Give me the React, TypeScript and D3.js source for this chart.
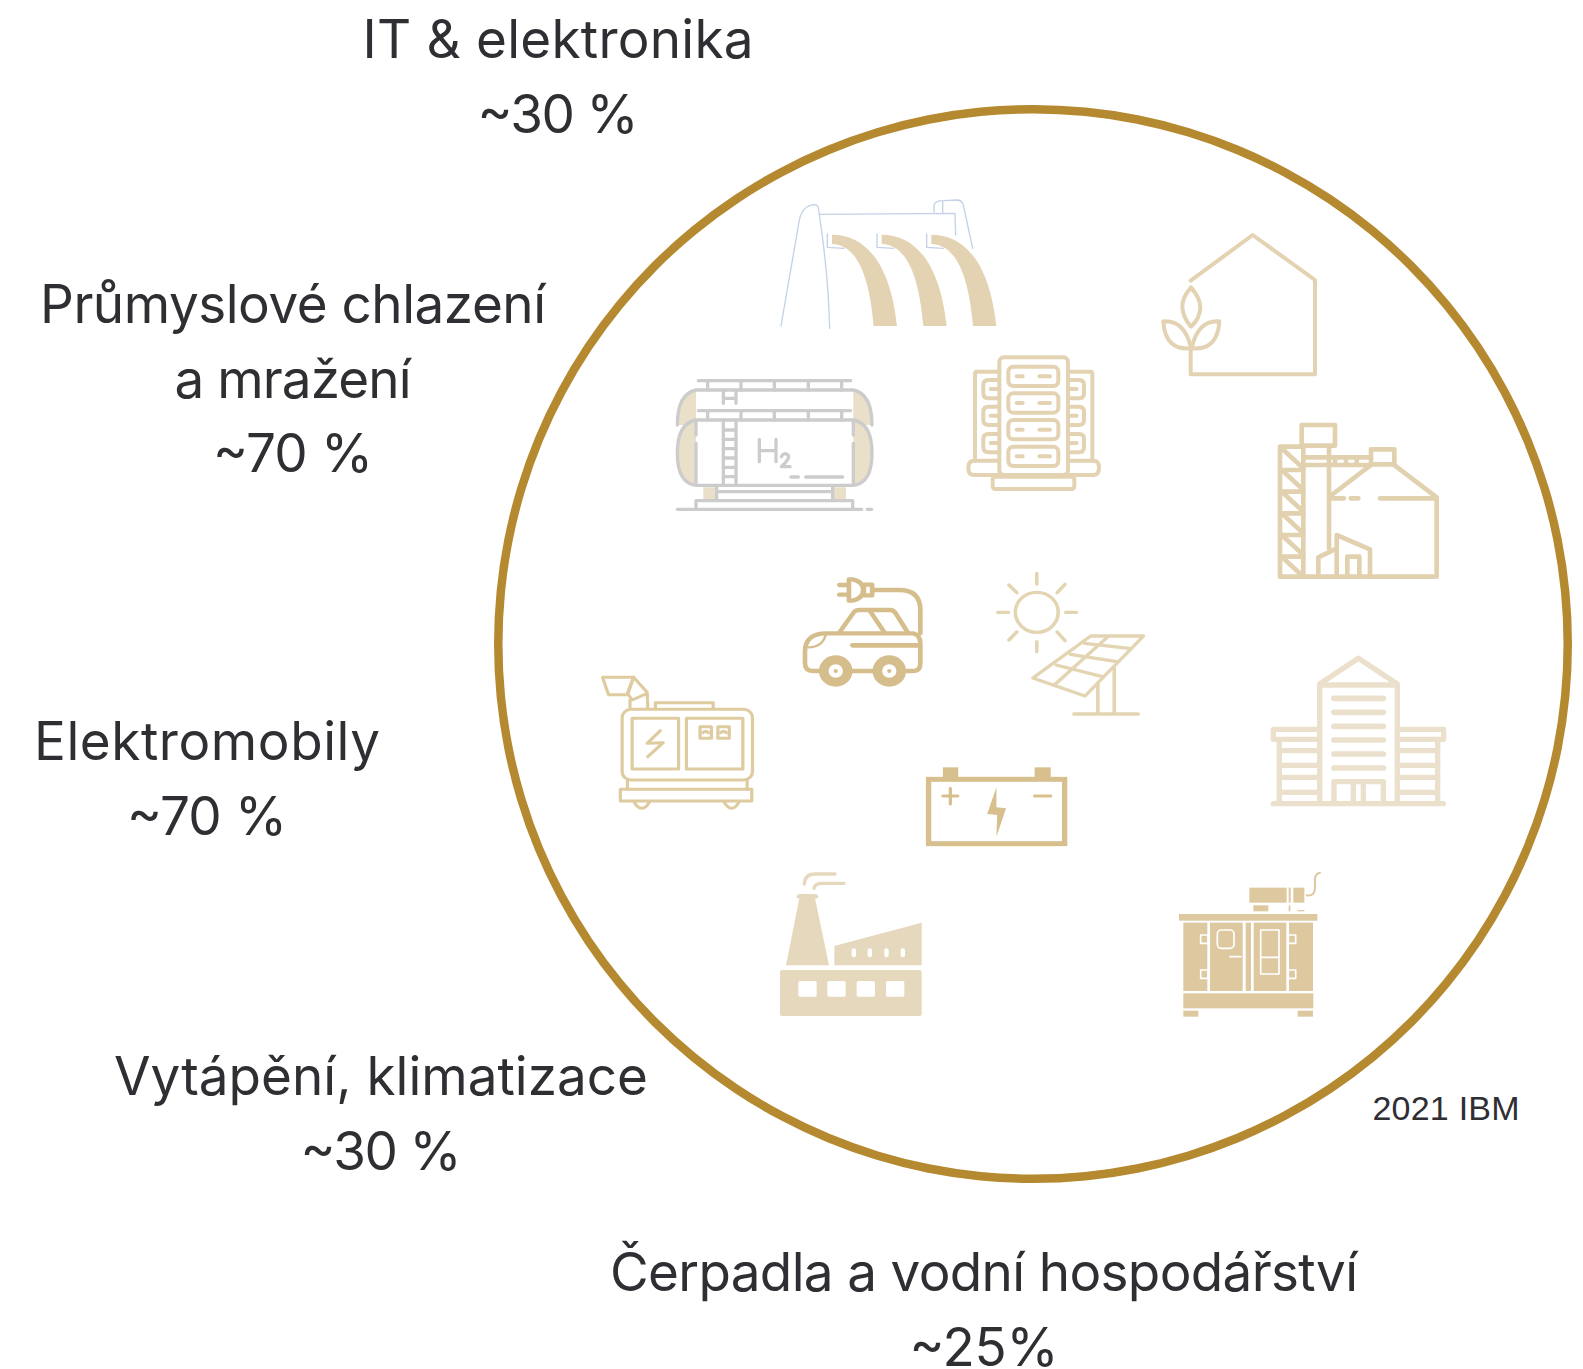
import React from 'react';
import * as d3 from 'd3';

// labels, one array per column
const sectorLines = [
  ['IT & elektronika'],
  ['Průmyslové chlazení', 'a mražení'],
  ['Elektromobily'],
  ['Vytápění, klimatizace'],
  ['Čerpadla a vodní hospodářství'],
];
const shares = ['~30 %', '~70 %', '~70 %', '~30 %', '~25%'];
const sourceNote = '2021 IBM';

// where each label block sits: centre x, first baseline
const labelAnchors = [
  [558, 58],
  [293, 323],
  [207, 760],
  [381, 1095],
  [984, 1291],
];
// measured line widths, the original font is a little narrower than Inter
const lineWidths = [
  [391, 161],
  [506, 237, 160],
  [346, 160],
  [534, 161],
  [748, 149],
];
const lineStep = 74.6;

const RING = '#b5892f';
const INK = '#2e2e33';
const FONT = "'Inter', 'Open Sans', sans-serif";

const ring = d3.arc()({ innerRadius: 530.5, outerRadius: 539, startAngle: 0, endAngle: 2 * Math.PI }) as string;

const Traced = ({ x, y, kx = 1 / 3, children }: { x: number; y: number; kx?: number; children: React.ReactNode }) => (
  <g transform={`translate(${x},${y}) scale(${kx},${1 / 3})`} strokeLinecap="round" strokeLinejoin="round">
    {children}
  </g>
);

const Dam = () => (
  <g fill="none">
    <g stroke="#c3d2e6" strokeWidth={4}>
      <path d="M363 408 L418 90 Q428 45 465 44 Q474 44 476 60 Q505 250 509 415" />
      <path d="M478 73 L885 70 L887 135" />
      <path d="M822 66 L822 45 Q825 32 850 32 L890 30 Q905 30 910 45 L938 175 M848 32 L848 68" />
      {[0, 149, 298].map(dx => (
        <path key={dx} d="M502 132 L502 172 L552 175" transform={`translate(${dx},0)`} />
      ))}
    </g>
    {[0, 149, 298].map(dx => (
      <path
        key={dx}
        d="M516 134 C610 134 690 210 711 408 L641 408 C630 280 600 165 516 162 Z"
        fill="#e3d3b3"
        transform={`translate(${dx},0)`}
      />
    ))}
  </g>
);

const Tank = () => (
  <g fill="none" stroke="#cccccc" strokeWidth={10}>
    <path d="M108 600 Q52 620 52 705 L108 705 Z" fill="#eadfc8" stroke="none" />
    <path d="M580 600 Q636 620 636 705 L580 705 Z" fill="#eadfc8" stroke="none" />
    <path d="M52 705 Q52 612 108 600 L580 600 Q636 612 636 705" />
    <path d="M115 572 L572 572 M115 662 L572 662" />
    {[143, 243, 343, 445, 545].map(x => (
      <path key={x} d={`M${x} 572 L${x} 600 M${x} 662 L${x} 690`} />
    ))}
    <path d="M190 605 L190 640 M228 605 L228 640 M190 625 L228 625" />
    <path d="M108 690 Q52 700 52 790 Q52 880 108 886 Z" fill="#eadfc8" stroke="none" />
    <path d="M580 690 Q636 700 636 790 Q636 880 580 886 Z" fill="#eadfc8" stroke="none" />
    <path d="M108 886 Q52 880 52 790 Q52 700 108 690 L580 690 Q636 700 636 790 Q636 880 580 886 Z" />
    <path d="M108 695 L108 735 M108 760 L108 880 M580 695 L580 735 M580 760 L580 880" />
    <path d="M190 690 L190 886 M228 690 L228 886" />
    {d3.range(720, 880, 28).map(y => (
      <path key={y} d={`M190 ${y} L228 ${y}`} />
    ))}
    <path d="M298 748 L298 815 M348 748 L348 815 M298 782 L348 782" />
    <path d="M364 800 Q372 785 384 795 Q392 805 364 830 L390 830" />
    <path d="M393 861 L415 861 M437 861 L548 861" />
    <path d="M130 892 L170 892 L170 930 L130 930 Z M518 892 L558 892 L558 930 L518 930 Z" fill="#eadfc8" stroke="none" />
    <path d="M170 890 L170 930 M518 890 L518 930 M170 905 L515 905" />
    <path d="M108 958 L108 932 L578 932 L578 958 M52 958 L605 958 M622 958 L635 958" />
  </g>
);

const ServerRack = () => (
  <g fill="none" stroke="#e3d3b3" strokeWidth={12}>
    <rect x={1018} y={502} width={206} height={353} rx={14} />
    {[530, 610, 690, 770].map(y => (
      <g key={y}>
        <rect x={1045} y={y} width={150} height={58} rx={15} />
        <path d={`M1070 ${y + 29} L1088 ${y + 29} M1138 ${y + 29} L1170 ${y + 29}`} />
      </g>
    ))}
    {[0, 1].map(side => (
      <g key={side} transform={side ? 'translate(2242,0) scale(-1,1)' : undefined}>
        <path d="M1018 545 L950 545 Q945 545 945 552 L945 812" />
        {[570, 650, 732].map(y => (
          <path
            key={y}
            d={`M1018 ${y} L985 ${y} Q970 ${y} 970 ${y + 15} L970 ${y + 40} Q970 ${y + 55} 985 ${y + 55} L1018 ${y + 55} M1018 ${y + 27} L992 ${y + 27}`}
          />
        ))}
        <path d="M1018 812 L942 812 Q925 812 925 833 Q925 855 942 855 L1018 855" />
      </g>
    ))}
    <rect x={998} y={860} width={245} height={37} rx={8} />
  </g>
);

const GreenHouse = () => (
  <g fill="none" stroke="#e3d3b3" strokeWidth={12}>
    <path d="M152 182 L338 45 L525 180 L525 463 L152 463 L152 390" />
    <path d="M153 202 Q125 235 127 262 Q130 295 153 320 Q180 295 181 262 Q181 235 153 202 Z" />
    <path d="M70 304 Q135 300 153 385 Q75 392 70 304 Z" />
    <path d="M238 304 Q173 300 155 385 Q233 392 238 304 Z" />
  </g>
);

const Silo = () => (
  <g fill="none" stroke="#e1d1af" strokeWidth={14}>
    <path d="M420 1070 L420 680 L490 680 L490 1070 M420 1070 L890 1070 L890 835 L720 835" />
    {[750, 815, 880, 945, 1010].map(y => (
      <path key={y} d={`M420 ${y} L490 ${y}`} />
    ))}
    {[685, 750, 815, 880, 945, 1010].map(y => (
      <path key={y} d={`M425 ${y} L488 ${y + 58}`} />
    ))}
    <rect x={485} y={615} width={100} height={62} />
    <path d="M567 680 L567 985" />
    <path d="M490 712 L690 712 M490 735 L690 735" />
    {[585, 618, 650].map(x => (
      <path key={x} d={`M${x} 715 L${x} 732`} />
    ))}
    <rect x={693} y={688} width={70} height={45} />
    <path d="M575 825 L695 733 M760 733 L890 832 M575 835 L612 835 M632 835 L655 835" />
    <path d="M535 1070 L535 1012 L590 985 M590 1070 L590 945 L690 988 L690 1070 M622 1070 L622 1010 L658 1010 L658 1070" />
  </g>
);

const EvCar = () => (
  <g fill="none" stroke="#d6be8c" strokeWidth={13}>
    <path d="M640 333 L625 333 Q602 333 602 310 L602 275 Q602 220 662 220 L905 220 Q925 225 925 250 L925 310 Q925 333 905 333 L885 333 M735 333 L795 333" />
    <path d="M698 218 L740 155 Q745 150 755 150 L840 150 Q850 150 856 160 L890 218 M785 155 L825 218" />
    <path d="M735 256 L920 256" strokeWidth={14} />
    <path d="M612 262 Q650 262 660 225" strokeWidth={7} />
    <path d="M925 220 L925 150 Q925 90 865 90 L795 90" />
    <rect x={767} y={74} width={23} height={32} />
    <path d="M725 58 L735 58 Q765 65 765 90 Q765 115 735 122 L725 122 Z" />
    <path d="M698 75 L725 75 M698 104 L725 104" />
    {[688, 838].map(cx => (
      <g key={cx}>
        <circle cx={cx} cy={333} r={47} fill="#d6be8c" stroke="none" />
        <circle cx={cx} cy={333} r={20} fill="#fff" stroke="none" />
        <circle cx={cx} cy={333} r={6} fill="#d6be8c" stroke="none" />
      </g>
    ))}
  </g>
);

const SolarPanel = () => (
  <g fill="none" stroke="#e3d4b2" strokeWidth={10}>
    <circle cx={1251} cy={157} r={60} />
    <path d="M1251 40 L1251 72 M1251 245 L1251 275 M1142 157 L1172 157 M1332 157 L1362 157 M1173 75 L1195 98 M1330 73 L1308 98 M1173 240 L1195 216 M1330 242 L1308 216" />
    <path d="M1240 354 L1402 228 L1550 228 L1386 408 Z" />
    <path d="M1300 375 L1448 232 M1305 315 L1435 350 M1345 283 L1475 305 M1385 250 L1510 265" />
    <path d="M1468 320 L1468 462 M1422 370 L1422 462 M1355 462 L1535 462" />
  </g>
);

const Generator = () => (
  <g fill="none" stroke="#dfcba0" strokeWidth={9}>
    <rect x={90} y={448} width={365} height={212} rx={25} />
    <rect x={118} y={475} width={130} height={152} />
    <rect x={270} y={475} width={158} height={152} />
    <path d="M197 512 L160 550 L205 548 L162 590" />
    {[308, 358].map(x => (
      <g key={x}>
        <rect x={x} y={500} width={32} height={35} />
        <path d={`M${x + 8} 518 Q${x + 16} 510 ${x + 24} 518`} />
      </g>
    ))}
    <rect x={85} y={688} width={368} height={35} />
    <path d="M105 662 L105 688 M440 662 L440 688" />
    <path d="M123 725 Q145 765 167 725 M375 725 Q397 765 418 725" />
    <path d="M183 445 L183 428 L345 428 L345 445" />
    <path d="M35 352 L122 352 L105 404 L52 404 Z" />
    <path d="M122 352 L160 397 L162 445 M122 352 L105 400 L118 420 L160 400 M112 445 L112 420" />
  </g>
);

const Battery = () => (
  <g fill="none" stroke="#d8c08e" strokeWidth={15} strokeLinejoin="miter">
    <rect x={948} y={658} width={381} height={193} />
    <rect x={988} y={622} width={43} height={36} fill="#d8c08e" stroke="none" />
    <rect x={1245} y={622} width={45} height={36} fill="#d8c08e" stroke="none" />
    <path d="M988 708 L1030 708 M1009 685 L1009 732 M1245 708 L1290 708" strokeWidth={9} />
    <path d="M1138 682 L1112 762 L1140 765 L1138 830 L1165 745 L1138 742 Z" fill="#d8c08e" stroke="none" />
  </g>
);

const Factory = () => (
  <g fill="#e5d8bc">
    <path d="M78 316 L118 115 L110 115 Q110 102 120 102 L165 102 Q175 102 175 115 L165 115 L207 316 Z" />
    <path d="M133 72 Q135 42 165 42 L225 42 M162 85 Q165 70 185 70 L252 70" fill="none" stroke="#e5d8bc" strokeWidth={10} />
    <path d="M223 316 L223 258 L485 188 L485 316 Z" />
    {[275, 323, 373, 422].map(x => (
      <rect key={x} x={x} y={265} width={13} height={27} rx={6} fill="#fff" />
    ))}
    <rect x={60} y={330} width={425} height={138} rx={6} />
    {[115, 202, 290, 378].map(x => (
      <rect key={x} x={x} y={363} width={55} height={47} rx={5} fill="#fff" />
    ))}
  </g>
);

const OfficeBlock = () => (
  <g fill="none" stroke="#ebe0cb" strokeWidth={16}>
    <path d="M479 490 L479 132 L595 55 L712 132 L712 490 M479 135 L712 135" />
    {[175, 217, 259, 300, 342, 384].map(y => (
      <path key={y} d={`M522 ${y} L670 ${y}`} strokeWidth={17} />
    ))}
    <path d="M522 490 L522 425 L670 425 L670 490 M580 430 L580 490 M610 430 L610 490" />
    {[0, 1].map(side => (
      <g key={side} transform={side ? 'translate(1191,0) scale(-1,1)' : undefined}>
        <path d="M479 268 L340 268 L340 298 L479 298 M358 298 L358 490" />
        {[332, 376, 412, 457].map(y => (
          <path key={y} d={`M358 ${y} L479 ${y}`} />
        ))}
      </g>
    ))}
    <path d="M340 491 L850 491" />
  </g>
);

const CoolingUnit = () => {
  const c = '#ddc8a0';
  return (
    <g fill={c}>
      <rect x={57} y={822} width={415} height={20} />
      {[[70, 72], [150, 98], [257, 16], [281, 98], [387, 72]].map(([x, w]) => (
        <rect key={x} x={x} y={848} width={w} height={205} />
      ))}
      <rect x={70} y={1060} width={390} height={45} />
      <rect x={70} y={1112} width={45} height={18} />
      <rect x={413} y={1112} width={46} height={18} />
      <g fill="none" stroke="#fff" strokeWidth={5}>
        <rect x={172} y={870} width={50} height={55} rx={12} />
        <path d="M210 950 L242 950" />
        <rect x={302} y={870} width={55} height={132} />
        <path d="M302 952 L357 952" />
        {[[122, 885], [122, 990], [385, 885], [385, 990]].map(([x, y]) => (
          <rect key={`${x}-${y}`} x={x} y={y} width={22} height={25} />
        ))}
      </g>
      <rect x={268} y={743} width={112} height={45} />
      <rect x={386} y={743} width={6} height={45} />
      <rect x={400} y={743} width={33} height={45} />
      <rect x={280} y={796} width={45} height={18} />
      <rect x={386} y={796} width={5} height={18} />
      <rect x={413} y={810} width={20} height={4} />
      <path d="M440 766 Q465 768 465 745 L465 715 Q467 700 480 698" fill="none" stroke={c} strokeWidth={6} />
    </g>
  );
};

export default function App() {
  return (
    <svg
      width={1583}
      height={1369}
      viewBox="0 0 1583 1369"
      style={{ position: 'absolute', left: 0, top: 0, background: '#fff' }}
    >
      <path d={ring} transform="translate(1033,644)" fill={RING} />

      <Traced x={660} y={190}>
        <Dam />
        <Tank />
        <ServerRack />
      </Traced>
      <Traced x={1140} y={220}>
        <GreenHouse />
        <Silo />
      </Traced>
      {/* this crop came back squeezed sideways: 2.8x wide, 3x high */}
      <Traced x={590} y={560} kx={1 / 2.8}>
        <EvCar />
        <SolarPanel />
        <Generator />
        <Battery />
      </Traced>
      <Traced x={760} y={860}>
        <Factory />
      </Traced>
      <Traced x={1160} y={640}>
        <OfficeBlock />
        <CoolingUnit />
      </Traced>

      <g fontFamily={FONT} fontSize={53} fill={INK} textAnchor="middle">
        {sectorLines.map((lines, i) => {
          const [cx, y0] = labelAnchors[i];
          return [...lines, shares[i]].map((line, j) => (
            <text key={`${i}-${j}`} x={cx} y={y0 + j * lineStep} textLength={lineWidths[i][j]} lengthAdjust="spacing">
              {line}
            </text>
          ));
        })}
      </g>
      <text
        x={1446}
        y={1120}
        textAnchor="middle"
        fontFamily="'Liberation Sans', sans-serif"
        fontSize={34}
        fill={INK}
        textLength={147}
        lengthAdjust="spacing"
      >
        {sourceNote}
      </text>
    </svg>
  );
}
